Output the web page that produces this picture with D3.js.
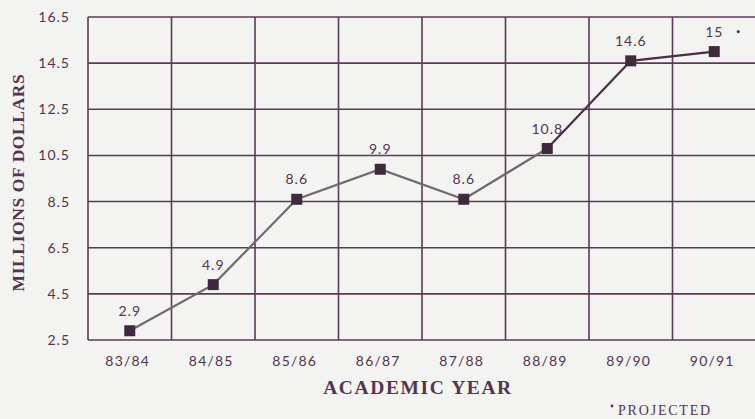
<!DOCTYPE html>
<html>
<head>
<meta charset="utf-8">
<script src="https://cdn.jsdelivr.net/npm/d3@7"></script>
<style>
  html, body { margin: 0; padding: 0; background: #f3f3f2; }
  svg { display: block; }
</style>
</head>
<body>
<svg id="chart" width="755" height="419"></svg>
<script>
// Academic years and funding (millions of dollars); last year is projected
const years = ["83/84", "84/85", "85/86", "86/87", "87/88", "88/89", "89/90", "90/91"];
const values = [2.9, 4.9, 8.6, 9.9, 8.6, 10.8, 14.6, 15];
const valueLabels = ["2.9", "4.9", "8.6", "9.9", "8.6", "10.8", "14.6", "15"];
const projected = [false, false, false, false, false, false, false, true];
const yTicks = [2.5, 4.5, 6.5, 8.5, 10.5, 12.5, 14.5, 16.5];

const ink = "#54344f";
const gridColor = "#5a3a57";
const svg = d3.select("#chart");

const margin = { left: 88, right: -1, top: 17, bottom: 79 };
const W = 755, H = 419;

const x = d3.scaleBand().domain(years).range([margin.left, W - margin.right]);
const y = d3.scaleLinear().domain([2.5, 16.5]).range([H - margin.bottom, margin.top]);

const g = svg.append("g");

// horizontal grid lines
g.selectAll("line.h").data(yTicks).join("line")
  .attr("x1", margin.left).attr("x2", W)
  .attr("y1", d => y(d)).attr("y2", d => y(d))
  .attr("stroke", gridColor).attr("stroke-width", 1.6);

// vertical grid lines at band edges
const edges = years.map(d => x(d));
g.selectAll("line.v").data(edges).join("line")
  .attr("x1", d => d).attr("x2", d => d)
  .attr("y1", y(16.5)).attr("y2", y(2.5))
  .attr("stroke", gridColor).attr("stroke-width", 1.6);

// y tick labels
const yAxis = d3.axisLeft(y).tickValues(yTicks).tickSize(0).tickPadding(0)
  .tickFormat(d3.format(".1f"));
const ya = svg.append("g").attr("transform", `translate(70,0)`).call(yAxis);
ya.select(".domain").remove();
ya.selectAll("text")
  .attr("fill", ink)
  .style("font-family", "Lato, 'Open Sans', sans-serif")
  .style("font-size", "14px")
  .style("letter-spacing", "1px");

// x tick labels
const xAxis = d3.axisBottom(x).tickSize(0).tickPadding(0);
const xa = svg.append("g").attr("transform", `translate(-2,${H - margin.bottom + 16})`).call(xAxis);
xa.select(".domain").remove();
xa.selectAll("text")
  .attr("fill", ink)
  .style("font-family", "Lato, 'Open Sans', sans-serif")
  .style("font-size", "14px")
  .style("letter-spacing", "1.2px");

const cx = d => x(d) + x.bandwidth() / 2;
const pts = years.map((d, i) => ({ year: d, v: values[i], label: valueLabels[i], proj: projected[i] }));

// line: reported years in gray, later segments in dark plum
const line = d3.line().x(d => cx(d.year)).y(d => y(d.v));
g.append("path").datum(pts.slice(0, 6))
  .attr("d", line).attr("fill", "none")
  .attr("stroke", "#6e6a6d").attr("stroke-width", 2.2);
g.append("path").datum(pts.slice(5))
  .attr("d", line).attr("fill", "none")
  .attr("stroke", "#4a2d47").attr("stroke-width", 2.2);

// square markers
const ms = 11;
g.selectAll("rect.m").data(pts).join("rect")
  .attr("x", d => cx(d.year) - ms / 2)
  .attr("y", d => y(d.v) - ms / 2)
  .attr("width", ms).attr("height", ms)
  .attr("fill", "#3f2a3d");

// value labels
g.selectAll("text.v").data(pts).join("text")
  .attr("x", d => cx(d.year))
  .attr("y", d => y(d.v) - 15)
  .attr("text-anchor", "middle")
  .attr("fill", ink)
  .style("font-family", "Lato, 'Open Sans', sans-serif")
  .style("font-size", "14px")
  .style("letter-spacing", "1px")
  .text(d => d.label);

// projected marker dot
pts.filter(d => d.proj).forEach(d => {
  g.append("circle")
    .attr("cx", cx(d.year) + 24).attr("cy", y(d.v) - 20)
    .attr("r", 1.6).attr("fill", ink);
});

// axis titles
svg.append("text")
  .attr("transform", `translate(24,${(y(2.5) + y(16.5)) / 2 + 4}) rotate(-90)`)
  .attr("text-anchor", "middle")
  .attr("fill", ink)
  .style("font-family", "'Liberation Serif', serif")
  .style("font-weight", "bold")
  .style("font-size", "17.5px")
  .style("letter-spacing", "0.6px")
  .text("MILLIONS OF DOLLARS");

svg.append("text")
  .attr("x", 418).attr("y", 394)
  .attr("text-anchor", "middle")
  .attr("fill", ink)
  .style("font-family", "'Liberation Serif', serif")
  .style("font-weight", "bold")
  .style("font-size", "19.5px")
  .style("letter-spacing", "1.6px")
  .text("ACADEMIC YEAR");

// footnote
svg.append("circle").attr("cx", 612).attr("cy", 406).attr("r", 1.4).attr("fill", ink);
svg.append("text")
  .attr("x", 618).attr("y", 415)
  .attr("fill", ink)
  .style("font-family", "'Liberation Serif', serif")
  .style("font-size", "14px")
  .style("letter-spacing", "1.8px")
  .text("PROJECTED");
</script>
</body>
</html>
